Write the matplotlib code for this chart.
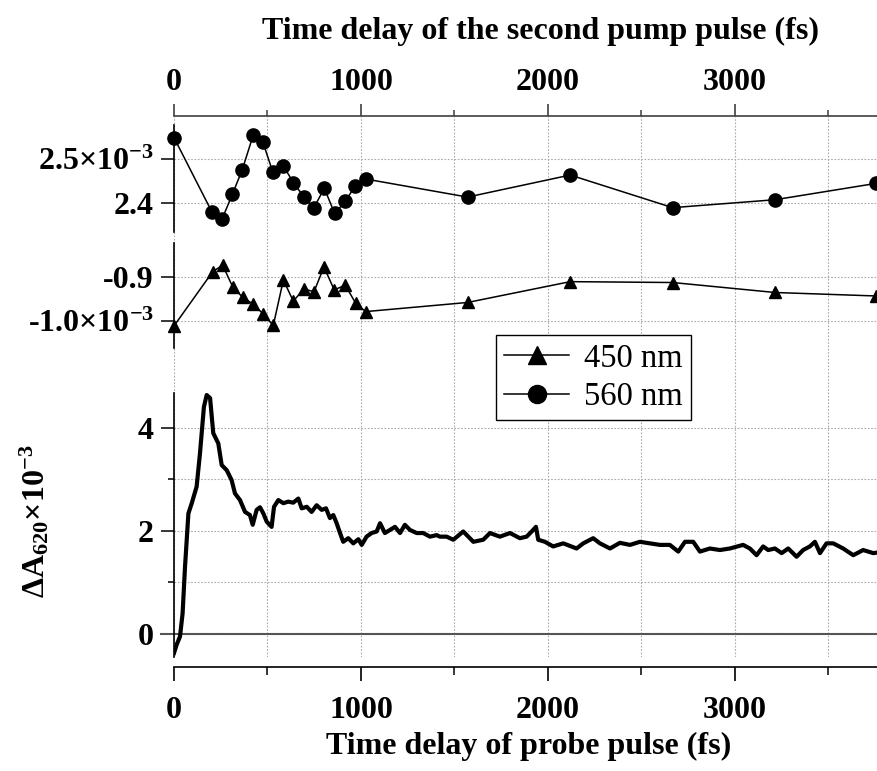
import numpy as np
import matplotlib.pyplot as plt
from matplotlib.ticker import MultipleLocator, FixedLocator
from matplotlib.lines import Line2D

plt.rcParams['font.family'] = ['Liberation Serif', 'DejaVu Serif']
plt.rcParams['mathtext.fontset'] = 'custom'
plt.rcParams['mathtext.rm'] = 'Liberation Serif'
plt.rcParams['mathtext.bf'] = 'Liberation Serif:bold'
plt.rcParams['mathtext.it'] = 'Liberation Serif:italic'

# second pump delay (fs) and signal (x1e-3)
t560 = [0, 203, 257, 312, 365, 424, 476, 529, 585, 638, 694, 747, 804, 859, 916, 968, 1025,
        1570, 2119, 2667, 3215, 3754]
a560 = [2.549, 2.380, 2.364, 2.420, 2.476, 2.555, 2.538, 2.470, 2.485, 2.447, 2.415, 2.389,
        2.434, 2.377, 2.404, 2.439, 2.455, 2.414, 2.464, 2.390, 2.408, 2.445]

t450 = [0, 207, 260, 314, 367, 424, 478, 531, 585, 638, 694, 749, 802, 857, 916, 972, 1025,
        1570, 2119, 2667, 3215, 3754]
a450 = [-1.012, -0.887, -0.872, -0.922, -0.946, -0.962, -0.985, -1.011, -0.906, -0.955, -0.927,
        -0.933, -0.876, -0.929, -0.918, -0.960, -0.979, -0.958, -0.910, -0.912, -0.935, -0.943]

# probe delay trace
trace_t = [0, 14, 32, 46, 59, 77, 95, 121, 139, 160, 175, 193, 210, 237, 255, 282, 308, 326,
           353, 380, 406, 421, 442, 460, 478, 496, 522, 535, 558, 585, 611, 638, 665, 683,
           710, 736, 763, 790, 813, 834, 852, 870, 888, 905, 932, 959, 986, 1004, 1030, 1057,
           1084, 1102, 1128, 1155, 1182, 1209, 1235, 1262, 1298, 1333, 1369, 1405, 1422, 1458,
           1494, 1547, 1601, 1654, 1690, 1743, 1797, 1850, 1886, 1913, 1936, 1948, 1984, 2028,
           2082, 2153, 2189, 2242, 2278, 2332, 2385, 2439, 2492, 2545, 2599, 2652, 2697, 2733,
           2777, 2813, 2866, 2920, 2973, 3044, 3080, 3116, 3151, 3178, 3214, 3250, 3285, 3330,
           3365, 3401, 3428, 3455, 3490, 3526, 3579, 3633, 3686, 3740, 3760]
trace_a = [-0.37, -0.21, -0.05, 0.40, 1.31, 2.34, 2.54, 2.86, 3.51, 4.41, 4.64, 4.58, 3.90,
           3.70, 3.28, 3.18, 2.99, 2.73, 2.60, 2.37, 2.31, 2.12, 2.41, 2.46, 2.34, 2.18, 2.08,
           2.47, 2.60, 2.54, 2.57, 2.55, 2.63, 2.44, 2.47, 2.37, 2.50, 2.41, 2.44, 2.25, 2.31,
           2.15, 1.96, 1.79, 1.86, 1.76, 1.84, 1.73, 1.89, 1.96, 1.99, 2.15, 1.96, 2.02, 2.08,
           1.96, 2.12, 2.02, 1.96, 1.96, 1.89, 1.92, 1.89, 1.89, 1.83, 1.99, 1.79, 1.83, 1.96,
           1.89, 1.96, 1.86, 1.89, 1.99, 2.08, 1.83, 1.79, 1.70, 1.76, 1.66, 1.76, 1.86, 1.76,
           1.66, 1.77, 1.73, 1.79, 1.76, 1.73, 1.73, 1.60, 1.79, 1.79, 1.60, 1.66, 1.63, 1.66,
           1.73, 1.66, 1.53, 1.70, 1.63, 1.66, 1.57, 1.66, 1.50, 1.63, 1.70, 1.79, 1.57, 1.76,
           1.76, 1.66, 1.53, 1.63, 1.57, 1.58]

xticks = [0, 1000, 2000, 3000]
xtick_labels = ['0', '1000', '2000', '3000']

W, H = 877, 771
fig = plt.figure(figsize=(W / 100, H / 100), dpi=100)


def box(top, bottom):
    return [174 / W, 1 - bottom / H, (W - 174) / W, (bottom - top) / H]


ax1 = fig.add_axes(box(116, 237))
ax2 = fig.add_axes(box(237, 370))
ax3 = fig.add_axes(box(370, 657))

gridkw = dict(color='#aaaaaa', lw=0.8, linestyle=(0, (1.5, 1.5)))
fs = 23

for ax in (ax1, ax2, ax3):
    ax.set_facecolor('none')
    ax.set_xlim(0, 3760)
    ax.xaxis.set_major_locator(FixedLocator(xticks))
    ax.xaxis.set_minor_locator(MultipleLocator(500))
    ax.spines['right'].set_visible(False)
    ax.spines['left'].set_linewidth(1.2)
    ax.grid(True, which='both', axis='both', **gridkw)
    ax.tick_params(axis='y', which='major', direction='out', length=9.4, width=1.1,
                   pad=5, labelsize=fs)
    ax.tick_params(axis='y', which='minor', direction='out', length=4.3, width=1.1)
    ax.set_axisbelow(True)

# top panel: 560 nm
ax1.plot(t560, a560, color='k', lw=1.1, marker='o', ms=9.5, clip_on=False, zorder=3)
ax1.set_ylim(2.3234, 2.598)
ax1.spines['left'].set_bounds(2.335, 2.578)
ax1.spines['bottom'].set_visible(False)
ax1.spines['top'].set_color('#404040')
ax1.spines['top'].set_linewidth(1.2)
ax1.yaxis.set_major_locator(FixedLocator([2.4, 2.5]))
ax1.set_yticklabels(['2.4', '2.5×10$^{\\mathbf{-3}}$'], fontweight='bold')
ax1.xaxis.tick_top()
ax1.tick_params(axis='x', which='major', direction='out', length=9, width=1.2,
                color='#404040', pad=5, labelsize=fs)
ax1.tick_params(axis='x', which='minor', direction='out', length=4.5, width=1.1, color='#404040')
ax1.set_xticklabels(xtick_labels, fontweight='bold')

# middle panel: 450 nm
ax2.plot(t450, a450, color='k', lw=1.1, marker='^', ms=9, clip_on=False, zorder=3)
ax2.set_ylim(-1.1136, -0.8071)
ax2.spines['left'].set_bounds(-1.063, -0.821)
ax2.spines['top'].set_visible(False)
ax2.spines['bottom'].set_visible(False)
ax2.yaxis.set_major_locator(FixedLocator([-1.0, -0.9]))
ax2.set_yticklabels(['-1.0×10$^{\\mathbf{-3}}$', '-0.9'], fontweight='bold')
ax2.tick_params(axis='x', which='both', bottom=False, labelbottom=False)

# bottom panel: probe trace
ax3.plot(trace_t, trace_a, color='k', lw=3, solid_joinstyle='round', zorder=3)
ax3.axhline(0, xmin=-13 / 703, color='#555555', lw=1.5, clip_on=False, zorder=2)
ax3.set_ylim(-0.447, 5.126)
ax3.spines['left'].set_bounds(-0.447, 4.68)
ax3.spines['top'].set_visible(False)
ax3.spines['bottom'].set_position(('outward', 7.2))
ax3.spines['bottom'].set_linewidth(1.2)
ax3.yaxis.set_major_locator(FixedLocator([0, 2, 4]))
ax3.yaxis.set_minor_locator(FixedLocator([1, 3]))
ax3.set_yticklabels(['0', '2', '4'], fontweight='bold')
ax3.tick_params(axis='x', which='major', direction='out', length=10, width=1.2,
                pad=11, labelsize=fs)
ax3.tick_params(axis='x', which='minor', direction='out', length=5.5, width=1.1)
ax3.set_xticklabels(xtick_labels, fontweight='bold')

fig.text(540 / W, 1 - 39 / H, 'Time delay of the second pump pulse (fs)', ha='center',
         va='baseline', fontsize=fs, fontweight='bold')
fig.text(529 / W, 1 - 754 / H, 'Time delay of probe pulse (fs)', ha='center',
         va='baseline', fontsize=fs, fontweight='bold')
fig.text(35 / W, 1 - 521 / H, 'ΔA$_{\\mathbf{620}}$×10$^{\\mathbf{-3}}$', rotation=90,
         ha='center', va='center', fontsize=fs, fontweight='bold')

handles = [Line2D([], [], color='k', lw=1.1, marker='^', ms=13),
           Line2D([], [], color='k', lw=1.1, marker='o', ms=13)]
leg = fig.legend(handles, ['450 nm', '560 nm'], loc='upper left',
                 bbox_to_anchor=(496 / W, 1 - 335 / H), fontsize=23.5, frameon=True,
                 fancybox=False, edgecolor='k', framealpha=1, borderpad=0.25,
                 labelspacing=0.25, handlelength=2.0, handletextpad=0.45,
                 borderaxespad=0)
leg.get_frame().set_linewidth(1.0)

fig.savefig('out.png', dpi=100)
